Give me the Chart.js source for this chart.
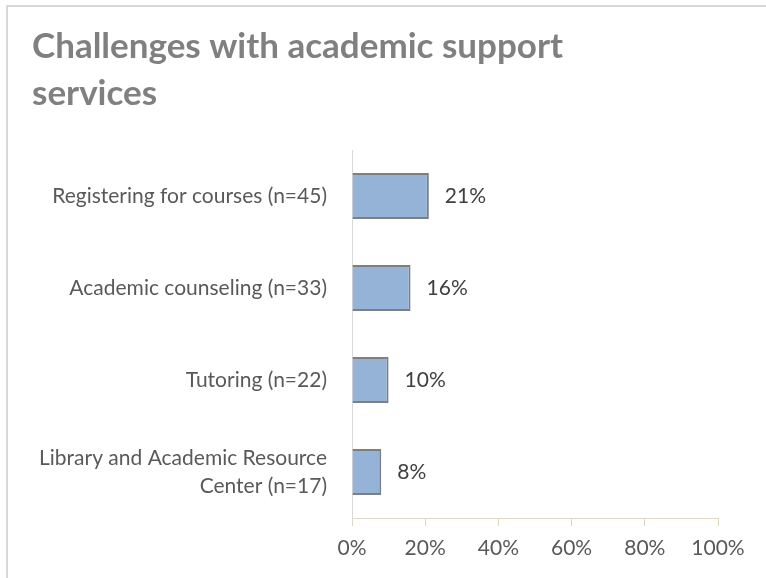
<!DOCTYPE html>
<html>
<head>
<meta charset="utf-8">
<script src="https://cdn.jsdelivr.net/npm/chart.js@4/dist/chart.umd.min.js"></script>
<style>
  html, body { margin: 0; padding: 0; background: #fff; }
  #wrap { position: relative; width: 766px; height: 578px; overflow: hidden; }
  #frame { position: absolute; left: 6px; top: 5px; width: 900px; height: 900px;
           border-top: 2px solid #D9D9D9; border-left: 2px solid #D9D9D9; }
  canvas { position: absolute; left: 0; top: 0; }
</style>
</head>
<body>
<div id="wrap">
  <div id="frame"></div>
  <canvas id="chart" width="766" height="578"></canvas>
</div>
<script>
const categories = [
    'Registering for courses (n=45)',
    'Academic counseling (n=33)',
    'Tutoring (n=22)',
    ['Library and Academic Resource', 'Center (n=17)']
]
const percents = [21, 16, 10, 8]
const xTicks = [0, 20, 40, 60, 80, 100]

const FONT = 'Lato, "Open Sans", sans-serif'

// value labels drawn to the right of each bar
const valueLabels = {
    id: 'valueLabels',
    afterDatasetsDraw(chart) {
        const ctx = chart.ctx
        const meta = chart.getDatasetMeta(0)
        ctx.save()
        ctx.font = '21px ' + FONT
        ctx.fillStyle = '#404040'
        ctx.textAlign = 'left'
        ctx.textBaseline = 'middle'
        meta.data.forEach((bar, i) => {
            ctx.fillText(percents[i] + '%', bar.x + 16, bar.y)
        })
        ctx.restore()
    }
}

new Chart(document.getElementById('chart'), {
    type: 'bar',
    data: {
        labels: categories,
        datasets: [{
            data: percents,
            backgroundColor: '#95B3D7',
            borderColor: '#7F7F7F',
            borderWidth: 2,
            borderSkipped: 'start',
            barPercentage: 0.5,
            categoryPercentage: 1
        }]
    },
    options: {
        indexAxis: 'y',
        responsive: false,
        animation: false,
        layout: {
            padding: { left: 32, right: 48, top: 0, bottom: 0 }
        },
        plugins: {
            legend: { display: false },
            tooltip: { enabled: false },
            title: {
                display: true,
                text: ['Challenges with academic support', 'services'],
                align: 'start',
                color: '#808080',
                font: { family: FONT, size: 35, weight: 'bold', lineHeight: '47px' },
                padding: { top: 23, bottom: 33 }
            }
        },
        scales: {
            x: {
                min: 0,
                max: 100,
                afterBuildTicks(scale) {
                    scale.ticks = xTicks.map(v => ({ value: v }))
                },
                afterFit(scale) { scale.height = 60 },
                border: { color: '#DDD9C3', width: 1 },
                grid: {
                    drawOnChartArea: false,
                    color: '#DDD9C3',
                    tickLength: 8
                },
                ticks: {
                    color: '#595959',
                    padding: 10,
                    font: { family: FONT, size: 21 },
                    callback: v => v + '%'
                }
            },
            y: {
                afterFit(scale) { scale.width = 320 },
                border: { color: '#D9D9D9', width: 1 },
                grid: { drawOnChartArea: false, drawTicks: false },
                ticks: {
                    color: '#595959',
                    padding: 25,
                    font: { family: FONT, size: 21, lineHeight: '28px' }
                }
            }
        }
    },
    plugins: [valueLabels]
})
</script>
</body>
</html>
